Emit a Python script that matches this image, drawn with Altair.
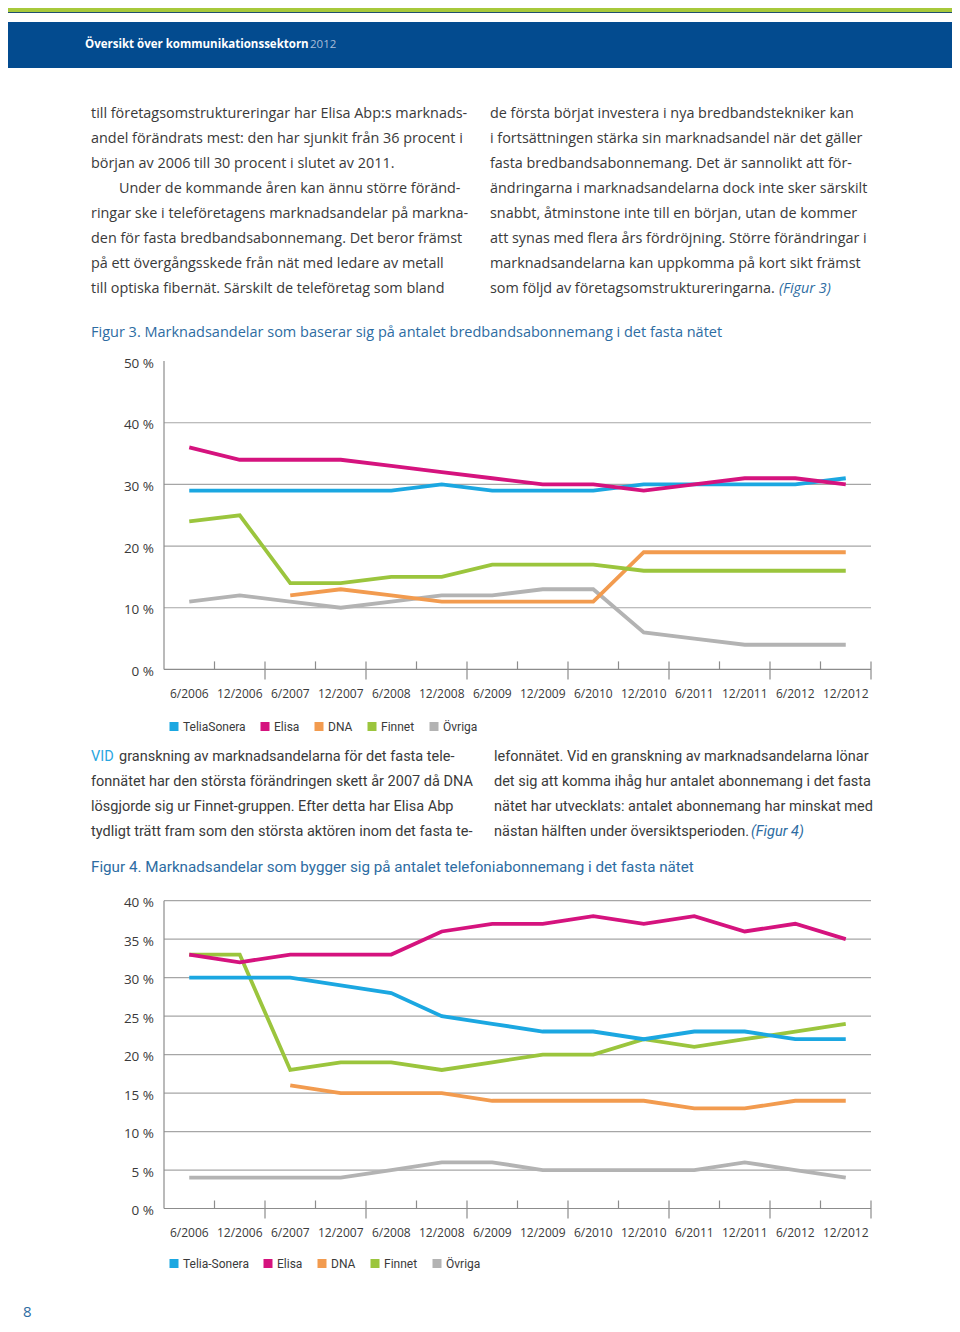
import altair as alt
import pandas as pd

# ---------------- data ----------------
periods = ["6/2006", "12/2006", "6/2007", "12/2007", "6/2008", "12/2008", "6/2009",
           "12/2009", "6/2010", "12/2010", "6/2011", "12/2011", "6/2012", "12/2012"]

f3_names = ["TeliaSonera", "Elisa", "DNA", "Finnet", "Övriga"]
f4_names = ["Telia-Sonera", "Elisa", "DNA", "Finnet", "Övriga"]
series_colors = ["#1ba7e1", "#d5137e", "#f29b4f", "#9bc53d", "#b3b3b3"]

f3_telia = [29, 29, 29, 29, 29, 30, 29, 29, 29, 30, 30, 30, 30, 31]
f3_elisa = [36, 34, 34, 34, 33, 32, 31, 30, 30, 29, 30, 31, 31, 30]
f3_dna = [None, None, 12, 13, 12, 11, 11, 11, 11, 19, 19, 19, 19, 19]
f3_finnet = [24, 25, 14, 14, 15, 15, 17, 17, 17, 16, 16, 16, 16, 16]
f3_ovriga = [11, 12, 11, 10, 11, 12, 12, 13, 13, 6, 5, 4, 4, 4]

f4_telia = [30, 30, 30, 29, 28, 25, 24, 23, 23, 22, 23, 23, 22, 22]
f4_elisa = [33, 32, 33, 33, 33, 36, 37, 37, 38, 37, 38, 36, 37, 35]
f4_dna = [None, None, 16, 15, 15, 15, 14, 14, 14, 14, 13, 13, 14, 14]
f4_finnet = [33, 33, 18, 19, 19, 18, 19, 20, 20, 22, 21, 22, 23, 24]
f4_ovriga = [4, 4, 4, 4, 5, 6, 6, 5, 5, 5, 5, 6, 5, 4]

f3_yticks = [0, 10, 20, 30, 40, 50]
f3_ylabels = ["0 %", "10 %", "20 %", "30 %", "40 %", "50 %"]
f3_grid = [10, 20, 30, 40]
f4_yticks = [0, 5, 10, 15, 20, 25, 30, 35, 40]
f4_ylabels = ["0 %", "5 %", "10 %", "15 %", "20 %", "25 %", "30 %", "35 %", "40 %"]
f4_grid = [5, 10, 15, 20, 25, 30, 35, 40]

header_title = "Översikt över kommunikationssektorn"
header_year = "2012"
body1_left = [
    "till företagsomstruktureringar har Elisa Abp:s marknads-",
    "andel förändrats mest: den har sjunkit från 36 procent i",
    "början av 2006 till 30 procent i slutet av 2011.",
    "Under de kommande åren kan ännu större föränd-",
    "ringar ske i teleföretagens marknadsandelar på markna-",
    "den för fasta bredbandsabonnemang. Det beror främst",
    "på ett övergångsskede från nät med ledare av metall",
    "till optiska fibernät. Särskilt de teleföretag som bland",
]
body1_right = [
    "de första börjat investera i nya bredbandstekniker kan",
    "i fortsättningen stärka sin marknadsandel när det gäller",
    "fasta bredbandsabonnemang. Det är sannolikt att för-",
    "ändringarna i marknadsandelarna dock inte sker särskilt",
    "snabbt, åtminstone inte till en början, utan de kommer",
    "att synas med flera års fördröjning. Större förändringar i",
    "marknadsandelarna kan uppkomma på kort sikt främst",
    "som följd av företagsomstruktureringarna.",
]
fig3_ref = "(Figur 3)"
fig3_title = "Figur 3.  Marknadsandelar som baserar sig på antalet bredbandsabonnemang i det fasta nätet"
body2_lead = "VID"
body2_left = [
    "granskning av marknadsandelarna för det fasta tele-",
    "fonnätet har den största förändringen skett år 2007 då DNA",
    "lösgjorde sig ur Finnet-gruppen. Efter detta har Elisa Abp",
    "tydligt trätt fram som den största aktören inom det fasta te-",
]
body2_right = [
    "lefonnätet. Vid en granskning av marknadsandelarna lönar",
    "det sig att komma ihåg hur antalet abonnemang i det fasta",
    "nätet har utvecklats: antalet abonnemang har minskat med",
    "nästan hälften under översiktsperioden.",
]
fig4_ref = "(Figur 4)"
fig4_title = "Figur 4.  Marknadsandelar som bygger sig på antalet telefoniabonnemang i det fasta nätet"
page_no = "8"

# ---------------- style / layout ----------------
W, H = 944, 1316
SANS = "Open Sans"
NARROW = "Roboto"
TEXT = "#3a3a3a"
BLUE_T = "#2d6ca2"
X_RANGE = [156, 863]

one = pd.DataFrame({"k": [0]})


def rect(x1, x2, y1, y2, color):
    return alt.Chart(one).mark_rect(color=color).encode(
        x=alt.value(x1), x2=alt.value(x2), y=alt.value(y1), y2=alt.value(y2))


def text_block(lines, x, y0, step, font, size, color, style="normal", weight="normal", xs=None):
    df = pd.DataFrame({
        "t": lines,
        "x": xs if xs is not None else [x] * len(lines),
        "y": [y0 + step * k for k in range(len(lines))],
    })
    return alt.Chart(df).mark_text(
        align="left", baseline="middle", font=font, fontSize=size, color=color,
        fontStyle=style, fontWeight=weight).encode(
        x=alt.X("x:Q", scale=None, axis=None),
        y=alt.Y("y:Q", scale=None, axis=None),
        text="t:N")


def line_chart(names, series, yticks, ylabels, grid, ymax, yrange, legend_y):
    xs = alt.Scale(domain=[-0.5, 13.5], range=X_RANGE, nice=False, zero=False)
    ys = alt.Scale(domain=[0, ymax], range=yrange, nice=False, zero=False)
    ppu = (yrange[0] - yrange[1]) / ymax

    def X(f):
        return alt.X(f, scale=xs, axis=None)

    def Y(f):
        return alt.Y(f, scale=ys, axis=None)

    out = []
    gdf = pd.DataFrame({"v": grid, "a": -0.5, "b": 13.5})
    out.append(alt.Chart(gdf).mark_rule(color="#a6a6a6", strokeWidth=1.2).encode(
        x=X("a:Q"), x2="b:Q", y=Y("v:Q")))
    out.append(alt.Chart(pd.DataFrame({"a": [-0.5], "lo": [0], "hi": [ymax]})).mark_rule(
        color="#8c8c8c", strokeWidth=1.2).encode(x=X("a:Q"), y=Y("lo:Q"), y2="hi:Q"))
    out.append(alt.Chart(pd.DataFrame({"a": [-0.5], "b": [13.5], "z": [0]})).mark_rule(
        color="#8c8c8c", strokeWidth=1.2).encode(x=X("a:Q"), x2="b:Q", y=Y("z:Q")))
    bounds = [k + 0.5 for k in range(14)]
    short = pd.DataFrame({"b": bounds[0::2], "lo": 0.0, "hi": 8 / ppu})
    long_ = pd.DataFrame({"b": bounds[1::2], "lo": -10 / ppu, "hi": 8 / ppu})
    for d in (short, long_):
        out.append(alt.Chart(d).mark_rule(color="#8c8c8c", strokeWidth=1.2).encode(
            x=X("b:Q"), y=Y("lo:Q"), y2="hi:Q"))
    out.append(alt.Chart(pd.DataFrame({"v": yticks, "t": ylabels})).mark_text(
        align="right", baseline="middle", dy=2.5, font=SANS, fontSize=13.5, color=TEXT).encode(
        x=alt.value(146), y=Y("v:Q"), text="t:N"))
    out.append(alt.Chart(pd.DataFrame({"i": list(range(14)), "z": 0, "t": periods})).mark_text(
        align="center", baseline="middle", dy=24.5, font=SANS, fontSize=12, color=TEXT).encode(
        x=X("i:Q"), y=Y("z:Q"), text="t:N"))
    rows = []
    order = [4, 2, 3, 0, 1]
    for si in order:
        for i, v in enumerate(series[si]):
            if v is not None:
                rows.append({"s": names[si], "i": i, "v": v})
    ldf = pd.DataFrame(rows)
    out.append(alt.Chart(ldf).mark_line(strokeWidth=3.8).encode(
        x=X("i:Q"), y=Y("v:Q"),
        color=alt.Color("s:N", scale=alt.Scale(domain=names, range=series_colors), legend=None)))
    out.append(alt.Chart(pd.DataFrame({"s": names})).mark_square(size=0, opacity=0, filled=True).encode(
        x=alt.value(0), y=alt.value(0),
        color=alt.Color("s:N", scale=alt.Scale(domain=names, range=series_colors),
                        legend=alt.Legend(orient="none", legendX=160, legendY=legend_y,
                                          direction="horizontal", title=None, symbolType="square",
                                          symbolSize=81, symbolOpacity=1, symbolStrokeWidth=0,
                                          labelFont=NARROW, labelFontSize=12, labelColor=TEXT,
                                          labelOffset=3, columnPadding=13, padding=0))))
    return out


layers = []
# page decoration
layers.append(rect(0, W, 0, 4, "#a7c93b"))
layers.append(rect(0, W, 4, 5, "#1f4f6f"))
layers.append(rect(0, W, 14, 60, "#034b8f"))
layers.append(text_block([header_title], 77, 36.5, 0, SANS, 11.5, "white", weight="bold"))
layers.append(text_block([header_year], 302, 36.5, 0, SANS, 11.5, "#a9bcd8"))

# first text block
layers.append(text_block(body1_left, 83, 106, 25, SANS, 14.4, TEXT,
                         xs=[83, 83, 83, 111, 83, 83, 83, 83]))
layers.append(text_block(body1_right, 482, 106, 25, SANS, 14.4, TEXT))
layers.append(text_block([fig3_ref], 771, 281, 0, SANS, 14.4, BLUE_T, style="italic"))
layers.append(text_block([fig3_title], 83, 325, 0, SANS, 14.5, BLUE_T))

# figure 3
layers += line_chart(f3_names, [f3_telia, f3_elisa, f3_dna, f3_finnet, f3_ovriga],
                     f3_yticks, f3_ylabels, f3_grid, 50, [661.4, 353.1], 712.5)

# second text block
layers.append(text_block([body2_lead], 83, 749, 0, NARROW, 14.5, "#2aa6df"))
layers.append(text_block(body2_left, 83, 749, 25, NARROW, 14.5, TEXT,
                         xs=[111, 83, 83, 83]))
layers.append(text_block(body2_right, 486, 749, 25, NARROW, 14.5, TEXT))
layers.append(text_block([fig4_ref], 743, 824, 0, NARROW, 14.5, BLUE_T, style="italic"))
layers.append(text_block([fig4_title], 83, 859, 0, NARROW, 15.2, BLUE_T))

# figure 4
layers += line_chart(f4_names, [f4_telia, f4_elisa, f4_dna, f4_finnet, f4_ovriga],
                     f4_yticks, f4_ylabels, f4_grid, 40, [1200.5, 892.7], 1249.5)

layers.append(text_block([page_no], 15, 1304, 0, SANS, 15, BLUE_T))

chart = alt.layer(*layers).resolve_scale(
    x="independent", y="independent", color="independent"
).resolve_legend(color="independent").properties(
    width=W, height=H, padding=0, background="white",
    autosize=alt.AutoSizeParams(type="none"),
).configure_view(strokeWidth=0)

chart.save("out.html", embed_options={"renderer": "svg", "actions": False})
